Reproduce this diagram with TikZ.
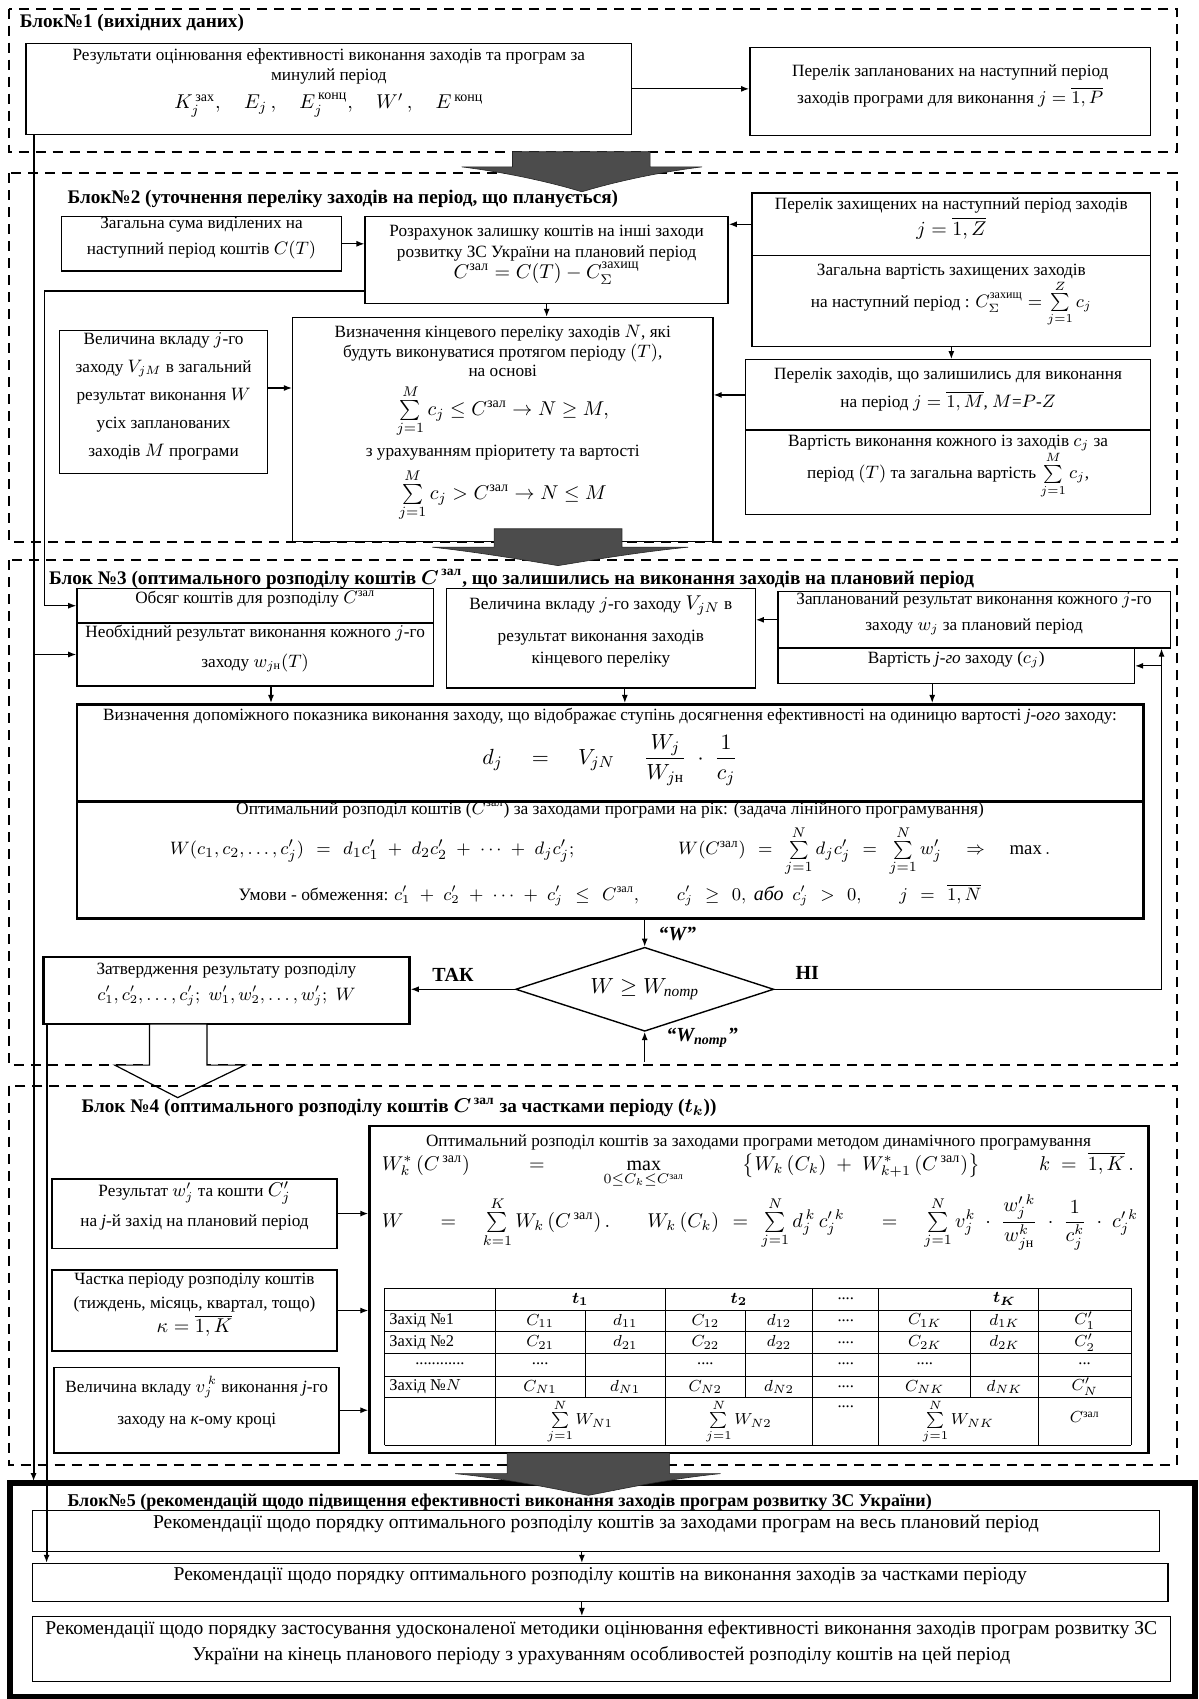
\documentclass[tikz,border=0pt]{standalone}
\usepackage{amsmath}
\usepackage{fontspec}
\setmainfont{Liberation Serif}
\usetikzlibrary{arrows.meta,fit,shapes.geometric,positioning}

\newcommand{\zal}{\text{зал}}
\newcommand{\fsz}[2]{\fontsize{#1}{#2}\selectfont}
\newcommand{\widemath}{\thickmuskip=12mu plus 4mu\medmuskip=9mu plus 3mu}

\tikzset{
  blk/.style={draw, line width=0.9pt, dash pattern=on 5pt off 3.5pt},
  box/.style={draw, line width=0.7pt, inner sep=0pt, align=center, font=\fsz{8.6}{10}},
  boldbox/.style={box, line width=1.4pt},
  ttl/.style={anchor=base west, inner sep=0pt, font=\bfseries\fsz{9.6}{11}},
  lbl/.style={inner sep=1pt, font=\bfseries\itshape\fsz{10}{12}},
  cell/.style={inner sep=0pt, font=\fsz{8.2}{10}},
  arr/.style={-{Latex[length=4pt,width=3pt]}, line width=0.6pt},
  fat/.style={fill=black!70, draw=black!85, line width=0.3pt},
}

\begin{document}
\begin{tikzpicture}[x=0.5416pt, y=-0.5416pt]
\useasboundingbox (0,0) rectangle (1106,1568);

% Блок 1
\draw[blk] (8,8) rectangle (1086,140);
\node[ttl] (t1) at (18,25) {Блок№1 (вихідних даних)};
\node[box, fit={(24,40) (583,124)}] (resA) {Результати оцінювання ефективності виконання заходів та програм за\\ минулий період\\[4pt] {\fsz{10}{12}$K_j^{\,\text{зах}},\quad E_j\,,\quad E_j^{\,\text{конц}},\quad W'\,,\quad E^{\,\text{конц}}$}};
\node[box, fit={(692,44) (1062,125)}, font=\fsz{8.6}{13.5}] (planB) {Перелік запланованих на наступний період\\ заходів програми для виконання $j=\overline{1,P}$};
\draw[arr] (resA.east) -- (resA.east -| planB.west);

% Блок 2
\draw[blk] (8,160) rectangle (1086,500);
\node[ttl] (t2) at (62,188) {Блок№2 (уточнення переліку заходів на період, що планується)};
\node[box, fit={(57,200) (315,250)}, font=\fsz{8.6}{13}] (sumC) {Загальна сума виділених на\\ наступний період коштів $C(T)$};
\node[box, fit={(337,200) (672,280)}, font=\fsz{8.6}{10.5}] (calcD) {Розрахунок залишку коштів на інші заходи\\ розвитку ЗС України на плановий період\\ {\fsz{10}{11}$C^{\zal} = C(T) - C_{\Sigma}^{\text{захищ}}$}};
\node[box, fit={(694,178) (1062,236)}, font=\fsz{8.6}{13}] (protE1) {Перелік захищених на наступний період заходів\\ {\fsz{10}{11}$j=\overline{1,Z}$}};
\node[box, fit={(694,236) (1062,320)}, font=\fsz{8.6}{16}] (protE2) {Загальна вартість захищених заходів\\ на наступний період : $C_{\Sigma}^{\text{захищ}} = \sum\limits_{j=1}^{Z} c_j$};
\node[box, fit={(270,293) (658,500)}, font=\fsz{8.6}{9.6}] (finF) {Визначення кінцевого переліку заходів $N$, які\\ будуть виконуватися протягом періоду $(T)$,\\ на основі\\[3pt] {\fsz{10}{11}$\sum\limits_{j=1}^{M} c_j \le C^{\zal} \rightarrow N \ge M,$}\\[3pt] з урахуванням пріоритету та вартості\\[3pt] {\fsz{10}{11}$\sum\limits_{j=1}^{M} c_j > C^{\zal} \rightarrow N \le M$}};
\node[box, fit={(55,305) (247,437)}, font=\fsz{8.6}{14}] (vklG) {Величина вкладу $j$-го\\ заходу $V_{jM}$ в загальний\\ результат виконання $W$\\ усіх запланованих\\ заходів $M$ програми};
\node[box, fit={(688,332) (1062,397)}, font=\fsz{8.6}{14}] (remH1) {Перелік заходів, що залишились для виконання\\ на період $j=\overline{1,M}$, $M$=$P$-$Z$};
\node[box, fit={(688,397) (1062,475)}, font=\fsz{8.6}{16}] (remH2) {Вартість виконання кожного із заходів $c_j$ за\\ період $(T)$ та загальна вартість $\sum\limits_{j=1}^{M} c_j$,};
\draw[arr] (sumC.east) -- (sumC.east -| calcD.west);
\draw[arr] (protE1.west) -- (protE1.west -| calcD.east);
\draw[arr] (calcD.south) -- (calcD.south |- finF.north);
\draw[arr] ([yshift=7pt]vklG.east) -- ([yshift=7pt]vklG.east -| finF.west);
\draw[arr] (protE2.south) -- (protE2.south |- remH1.north);
\draw[arr] (remH1.west) -- (remH1.west -| finF.east);

% Блок 3
\draw[blk] (8,517) rectangle (1086,983);
\node[ttl] (t3) at (45,539) {Блок №3 (оптимального розподілу коштів $\boldsymbol{C}^{\,\zal}$, що залишились на виконання заходів на плановий період};
\node[box, fit={(71,543) (400,575)}] (volI1) {Обсяг коштів для розподілу $C^{\zal}$};
\node[box, fit={(71,575) (400,633)}, font=\fsz{8.6}{15}] (needI2) {Необхідний результат виконання кожного $j$-го\\ заходу $w_{j\text{н}}(T)$};
\node[box, fit={(412,543) (697,635)}, font=\fsz{8.6}{11}] (vklJ) {Величина вкладу $j$-го заходу {\fsz{10}{11}$V_{jN}$} в\\[5pt] результат виконання заходів\\ кінцевого переліку};
\node[box, fit={(718,546) (1080,598)}, font=\fsz{8.6}{13}] (planK1) {Запланований результат виконання кожного $j$-го\\ заходу $w_j$ за плановий період};
\node[box, fit={(718,598) (1047,631)}] (costK2) {Вартість \textit{j-го} заходу ($c_j$)};
\node[boldbox, fit={(71,650) (1055,740)}, font=\fsz{8.6}{10}] (auxL1) {Визначення допоміжного показника виконання заходу, що відображає ступінь досягнення ефективності на одиницю вартості \textit{j-ого} заходу:\\[4pt] {\fsz{11}{13}\widemath$d_j \;=\; V_{jN}\;\;\dfrac{W_j}{W_{j\text{н}}}\cdot\dfrac{1}{c_j}$}};
\node[boldbox, fit={(71,740) (1055,848)}, font=\fsz{8.7}{10}] (optL2) {Оптимальний розподіл коштів ($C^{\zal}$) за заходами програми на рік: (задача лінійного програмування)\\[3pt]
 {\fsz{9.4}{11}\widemath\makebox[440pt]{$W(c_1, c_2, \dots, c'_j) = d_1c'_1 + d_2c'_2 + \dots + d_jc'_j;$\hfill$W(C^{\zal}) = \sum\limits_{j=1}^{N} d_jc'_j = \sum\limits_{j=1}^{N} w'_j \;\Rightarrow\; \max.$}}\\[3pt]
 {\widemath Умови - обмеження: $c'_1+c'_2+\dots+c'_j \le C^{\zal},\qquad c'_j \ge 0,\ \textit{\fsz{10}{11}або}\ \ c'_j > 0,\qquad j=\overline{1,N}$}};
\node[draw, diamond, shape aspect=3, line width=0.7pt, minimum width=129pt, minimum height=42pt, inner sep=0pt, font=\fsz{11}{12}] (dec) at (595,913) {$W \ge W_{\textit{потр}}$};
\node[boldbox, fit={(40,883) (378,945)}, line width=1.2pt, font=\fsz{8.6}{13}] (appZ) {Затвердження результату розподілу\\ $c'_1, c'_2, \dots, c'_j;\; w'_1, w'_2, \dots, w'_j;\; W$};
\node[lbl] (wlab) at (625,862) {“W”};
\node[lbl] (wplab) at (648,958) {“W\textsubscript{потр}”};
\node[lbl, font=\bfseries\fsz{10}{12}] (yes) at (418,900) {ТАК};
\node[lbl, font=\bfseries\fsz{10}{12}] (no) at (745,898) {НІ};
\coordinate (lnR) at (1072,0);
\coordinate (wsrc) at (595,980);
\draw[arr] (planK1.west) -- (planK1.west -| vklJ.east);
\draw[arr] ([xshift=7.9pt]needI2.south) -- ([xshift=7.9pt]needI2.south |- auxL1.north);
\draw[arr] ([xshift=12pt]vklJ.south) -- ([xshift=12pt]vklJ.south |- auxL1.north);
\draw[arr] ([xshift=-12pt]costK2.south) -- ([xshift=-12pt]costK2.south |- auxL1.north);
\draw[arr] (dec.north |- optL2.south) -- (dec.north);
\draw[arr] (dec.west) -- (dec.west -| appZ.east);
\draw[arr] (dec.east) -- (dec.east -| lnR) -- (lnR |- planK1.south);
\draw[arr] (lnR |- costK2.east) -- (costK2.east);
\draw[arr] (wsrc) -- (dec.south);
% порожня стрілка до блоку 4
\draw[fill=white, line width=0.6pt] (138,945) -- (191,945) -- (191,983) -- (226,983) -- (164,1013) -- (106,983) -- (138,983) -- cycle;

% Блок 4
\draw[blk] (8,1002) rectangle (1086,1352);
\node[ttl] (t4) at (75,1027) {Блок №4 (оптимального розподілу коштів $\boldsymbol{C}^{\,\zal}$ за частками періоду ($\boldsymbol{t_k}$))};
\node[box, fit={(48,1088) (311,1152)}, font=\fsz{8.6}{15}] (resM1) {Результат $w'_j$ та кошти {\fsz{10}{11}$C'_j$}\\ на \textit{j}-й захід на плановий період};
\node[box, fit={(48,1172) (311,1247)}, font=\fsz{8.6}{12}] (partM2) {Частка періоду розподілу коштів\\ (тиждень, місяць, квартал, тощо)\\ {\fsz{10}{12}$\kappa=\overline{1,K}$}};
\node[box, fit={(50,1262) (313,1341)}, font=\fsz{8.6}{16}] (vklM3) {Величина вкладу $v_j^{\,k}$ виконання \textit{j}-го\\ заходу на \textit{к}-ому кроці};
\node[boldbox, fit={(341,1039) (1060,1341)}, line width=1.2pt] (dynN) {};
\node[inner sep=0pt, font=\fsz{8.6}{10}] (dynT) at (700,1054) {Оптимальний розподіл коштів за заходами програми методом динамічного програмування};
\node[anchor=west, inner sep=0pt, font=\fsz{10}{11}] (dynF1) at (352,1080) {\makebox[376pt]{$W^{*}_{k}\,(C^{\,\zal})$\hfill$=$\hfill$\max\limits_{0\le C_k \le C^{\zal}}$\hfill$\bigl\{W_k\,(C_k) \;+\; W^{*}_{k+1}\,(C^{\,\zal})\bigr\}$\hfill$k \;=\; \overline{1,K}\,.$}};
\node[anchor=west, inner sep=0pt, font=\fsz{10}{11}] (dynF2) at (352,1128) {\widemath\makebox[378pt]{$W$\hfill$=\;\sum\limits_{k=1}^{K} W_k\,(C^{\,\zal})\,.$\hfill$W_k\,(C_k) = \sum\limits_{j=1}^{N} d^{\,k}_{j}\, c'^{\,k}_{j}$\hfill$=\;\sum\limits_{j=1}^{N} v^{k}_{j}\cdot\dfrac{w'^{\,k}_{j}}{w^{k}_{j\text{н}}}\cdot\dfrac{1}{c^{k}_{j}}\cdot c'^{\,k}_{j}$}};
\draw[arr] (resM1.east) -- (resM1.east -| dynN.west);
\draw[arr] (partM2.east) -- (partM2.east -| dynN.west);
\draw[arr] (vklM3.east) -- (vklM3.east -| dynN.west);
% таблиця
\foreach \y in {1189,1209,1229,1249,1270,1290,1334}
  \draw[line width=0.5pt] (355,\y) -- (1044,\y);
\foreach \x in {355,457,614,750,811,958,1044}
  \draw[line width=0.5pt] (\x,1189) -- (\x,1334);
\foreach \x in {540,688,896}
  \draw[line width=0.5pt] (\x,1209) -- (\x,1290);
\node[cell] (hd1) at (535.5,1199) {$\boldsymbol{t_1}$};
\node[cell] (hd2) at (682,1199) {$\boldsymbol{t_2}$};
\node[cell] (hd3) at (780.5,1199) {....};
\node[cell] (hd4) at (927,1199) {$\boldsymbol{t_K}$};
\foreach \rr/\yy/\nm/\ca/\da/\cb/\db/\ck/\dk/\cs in {
  1/1219/{Захід №1}/{$C_{11}$}/{$d_{11}$}/{$C_{12}$}/{$d_{12}$}/{$C_{1K}$}/{$d_{1K}$}/{$C'_1$},
  2/1239/{Захід №2}/{$C_{21}$}/{$d_{21}$}/{$C_{22}$}/{$d_{22}$}/{$C_{2K}$}/{$d_{2K}$}/{$C'_2$},
  4/1280/{Захід №$N$}/{$C_{N1}$}/{$d_{N1}$}/{$C_{N2}$}/{$d_{N2}$}/{$C_{NK}$}/{$d_{NK}$}/{$C'_N$}}
{
  \node[cell, anchor=west] (nm\rr) at (359,\yy) {\nm};
  \node[cell] (ca\rr) at (498.5,\yy) {\ca};
  \node[cell] (da\rr) at (577,\yy) {\da};
  \node[cell] (cb\rr) at (651,\yy) {\cb};
  \node[cell] (db\rr) at (719,\yy) {\db};
  \node[cell] (dt\rr) at (780.5,\yy) {....};
  \node[cell] (ck\rr) at (853.5,\yy) {\ck};
  \node[cell] (dk\rr) at (927,\yy) {\dk};
  \node[cell] (cs\rr) at (1001,\yy) {\cs};
}
\node[cell] (dots1) at (406,1259) {............};
\node[cell] (dots2) at (498.5,1259) {....};
\node[cell] (dots3) at (651,1259) {....};
\node[cell] (dots4) at (780.5,1259) {....};
\node[cell] (dots5) at (853.5,1259) {....};
\node[cell] (dots6) at (1001,1259) {...};
\node[cell] (sm1) at (535.5,1312) {$\sum\limits_{j=1}^{N} W_{N1}$};
\node[cell] (sm2) at (682,1312) {$\sum\limits_{j=1}^{N} W_{N2}$};
\node[cell] (sm3) at (780.5,1298) {....};
\node[cell] (sm4) at (884.5,1312) {$\sum\limits_{j=1}^{N} W_{NK}$};
\node[cell] (sm5) at (1001,1308) {$C^{\zal}$};

% Блок 5
\draw[line width=3pt] (9,1369) rectangle (1103,1566);
\node[ttl, font=\bfseries\fsz{9}{10}] (t5) at (62,1390) {Блок№5 (рекомендацій щодо підвищення ефективності виконання заходів програм розвитку ЗС України)};
\node[box, fit={(30,1394) (1070,1432)}, font=\fsz{9.8}{12}] (recR1) {Рекомендації щодо порядку оптимального розподілу коштів за заходами програм на весь плановий період};
\node[box, fit={(30,1443) (1078,1478)}, font=\fsz{9.8}{12}] (recR2) {Рекомендації щодо порядку оптимального розподілу коштів на виконання заходів за частками періоду};
\node[box, fit={(30,1492) (1080,1552)}, font=\fsz{9.8}{13}] (recR3) {Рекомендації щодо порядку застосування удосконаленої методики оцінювання ефективності виконання заходів програм розвитку ЗС\\ України на кінець планового періоду з урахуванням особливостей розподілу коштів на цей період};
\coordinate (xR) at (537,0);
\draw[arr] (recR1.south -| xR) -- (xR |- recR2.north);
\draw[arr] (recR2.south -| xR) -- (xR |- recR3.north);

% лінії зліва
\coordinate (lnA) at (31,0);
\coordinate (lnB) at (41,0);
\coordinate (lnC) at (43,0);
\coordinate (frm) at (31,1367);
\draw[arr, line width=1pt] (resA.south -| lnA) -- (frm);
\draw[arr] (lnA |- needI2.west) -- (needI2.west);
\draw[arr] ([yshift=6.5pt]calcD.south west) -- ([yshift=6.5pt]calcD.south west -| lnB) |- (volI1.west);
\draw[arr, line width=1pt] (appZ.south -| lnC) -- (lnC |- recR2.north);

% великі стрілки
\path[fat] (473,140) -- (600,140) -- (600,154) -- (648,154) .. controls (600,160) and (560,170) .. (537,177) .. controls (514,170) and (474,160) .. (426,154) -- (473,154) -- cycle;
\path[fat] (456,488) -- (574,488) -- (574,505) -- (635,505) .. controls (585,510) and (540,518) .. (515,522) .. controls (490,518) and (445,510) .. (399,505) -- (456,505) -- cycle;
\path[fat] (468,1341) -- (618,1341) -- (618,1360) -- (665,1360) .. controls (615,1365) and (570,1375) .. (543,1380) .. controls (516,1375) and (471,1365) .. (420,1360) -- (468,1360) -- cycle;
\end{tikzpicture}
\end{document}
